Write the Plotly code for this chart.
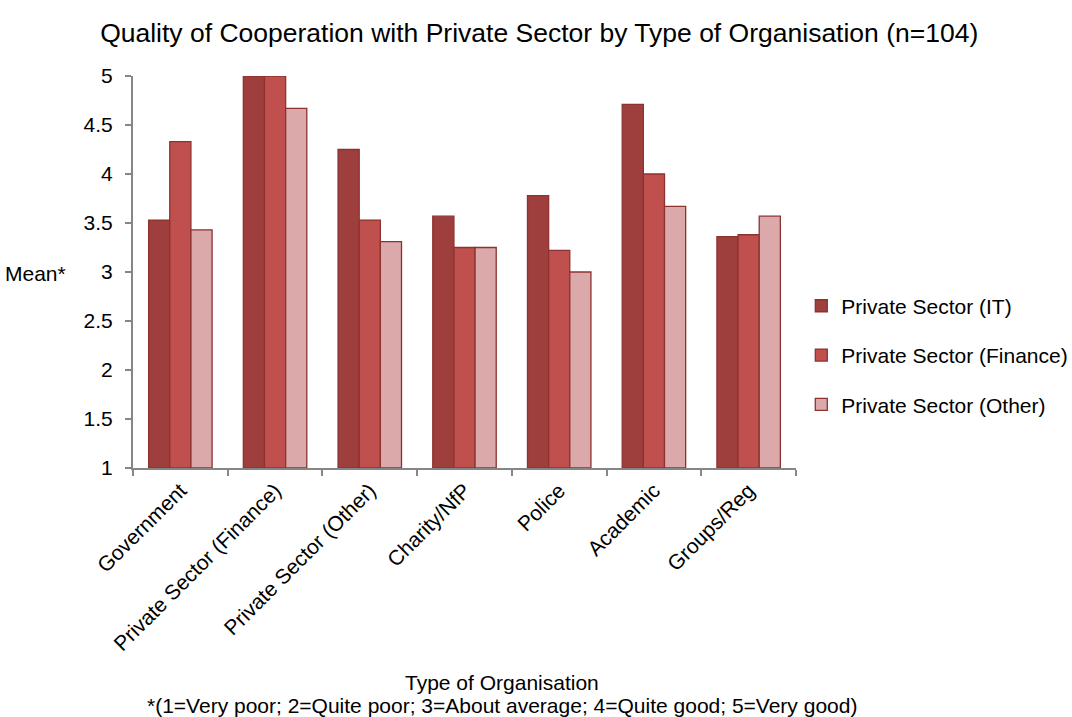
import plotly.graph_objects as go

# Organisation types on the x axis
categories = ["Government", "Private Sector (Finance)", "Private Sector (Other)",
              "Charity/NfP", "Police", "Academic", "Groups/Reg"]

# Mean cooperation scores per private-sector partner
it_means = [3.53, 5.0, 4.25, 3.57, 3.78, 4.71, 3.36]
finance_means = [4.33, 5.0, 3.53, 3.25, 3.22, 4.00, 3.38]
other_means = [3.43, 4.67, 3.31, 3.25, 3.00, 3.67, 3.57]

series_names = ["Private Sector (IT)", "Private Sector (Finance)", "Private Sector (Other)"]
series_values = [it_means, finance_means, other_means]
series_colors = ["#9E3F3E", "#C0504D", "#DBA9A9"]

y_ticks = [1, 1.5, 2, 2.5, 3, 3.5, 4, 4.5, 5]

FONT = "Liberation Sans, Arial, sans-serif"

fig = go.Figure()
for i, (name, vals, col) in enumerate(zip(series_names, series_values, series_colors)):
    fig.add_trace(go.Bar(
        name=name, x=categories, y=[v - 1 for v in vals], base=1,
        marker=dict(color=col, line=dict(color="#8C3332", width=1.3)),
        legendgroup=f"g{i}",
    ))

fig.update_layout(
    width=1072, height=717,
    margin=dict(l=133, r=276, t=76, b=249, autoexpand=False),
    paper_bgcolor="white", plot_bgcolor="white",
    barmode="group", bargap=0.33, bargroupgap=0,
    font=dict(family=FONT, size=21, color="#000000"),
    title=dict(text="Quality of Cooperation with Private Sector by Type of Organisation (n=104)",
               x=0.503, xanchor="center", y=0.955, yanchor="middle",
               font=dict(size=26.5, family=FONT)),
    showlegend=True,
    legend=dict(x=1.008, xanchor="left", y=0.288, yanchor="middle",
                font=dict(size=21, family=FONT), tracegroupgap=19,
                itemwidth=30, bgcolor="rgba(0,0,0,0)"),
    xaxis=dict(showline=True, linecolor="#868686", linewidth=2,
               ticks="outside", tickson="boundaries", ticklen=6, tickcolor="#868686",
               tickwidth=2, tickangle=-45, tickfont=dict(size=21), showgrid=False),
    yaxis=dict(range=[1, 5], tickvals=y_ticks, ticktext=[f"{t:g}" for t in y_ticks],
               showline=True, linecolor="#868686", linewidth=2,
               ticks="outside", ticklen=6, tickcolor="#868686", tickwidth=2,
               ticklabelstandoff=8,
               showgrid=False, zeroline=False, tickfont=dict(size=21)),
    annotations=[
        dict(text="Mean*", xref="paper", yref="paper", x=-0.098, y=0.497,
             xanchor="right", yanchor="middle", showarrow=False, font=dict(size=21)),
        dict(text="Type of Organisation", xref="paper", yref="paper", x=0.557, y=-0.548,
             xanchor="center", yanchor="middle", showarrow=False, font=dict(size=21)),
        dict(text="*(1=Very poor; 2=Quite poor; 3=About average; 4=Quite good; 5=Very good)",
             xref="paper", yref="paper", x=0.556, y=-0.607,
             xanchor="center", yanchor="middle", showarrow=False, font=dict(size=21)),
    ],
)

fig.write_html("out.html")
